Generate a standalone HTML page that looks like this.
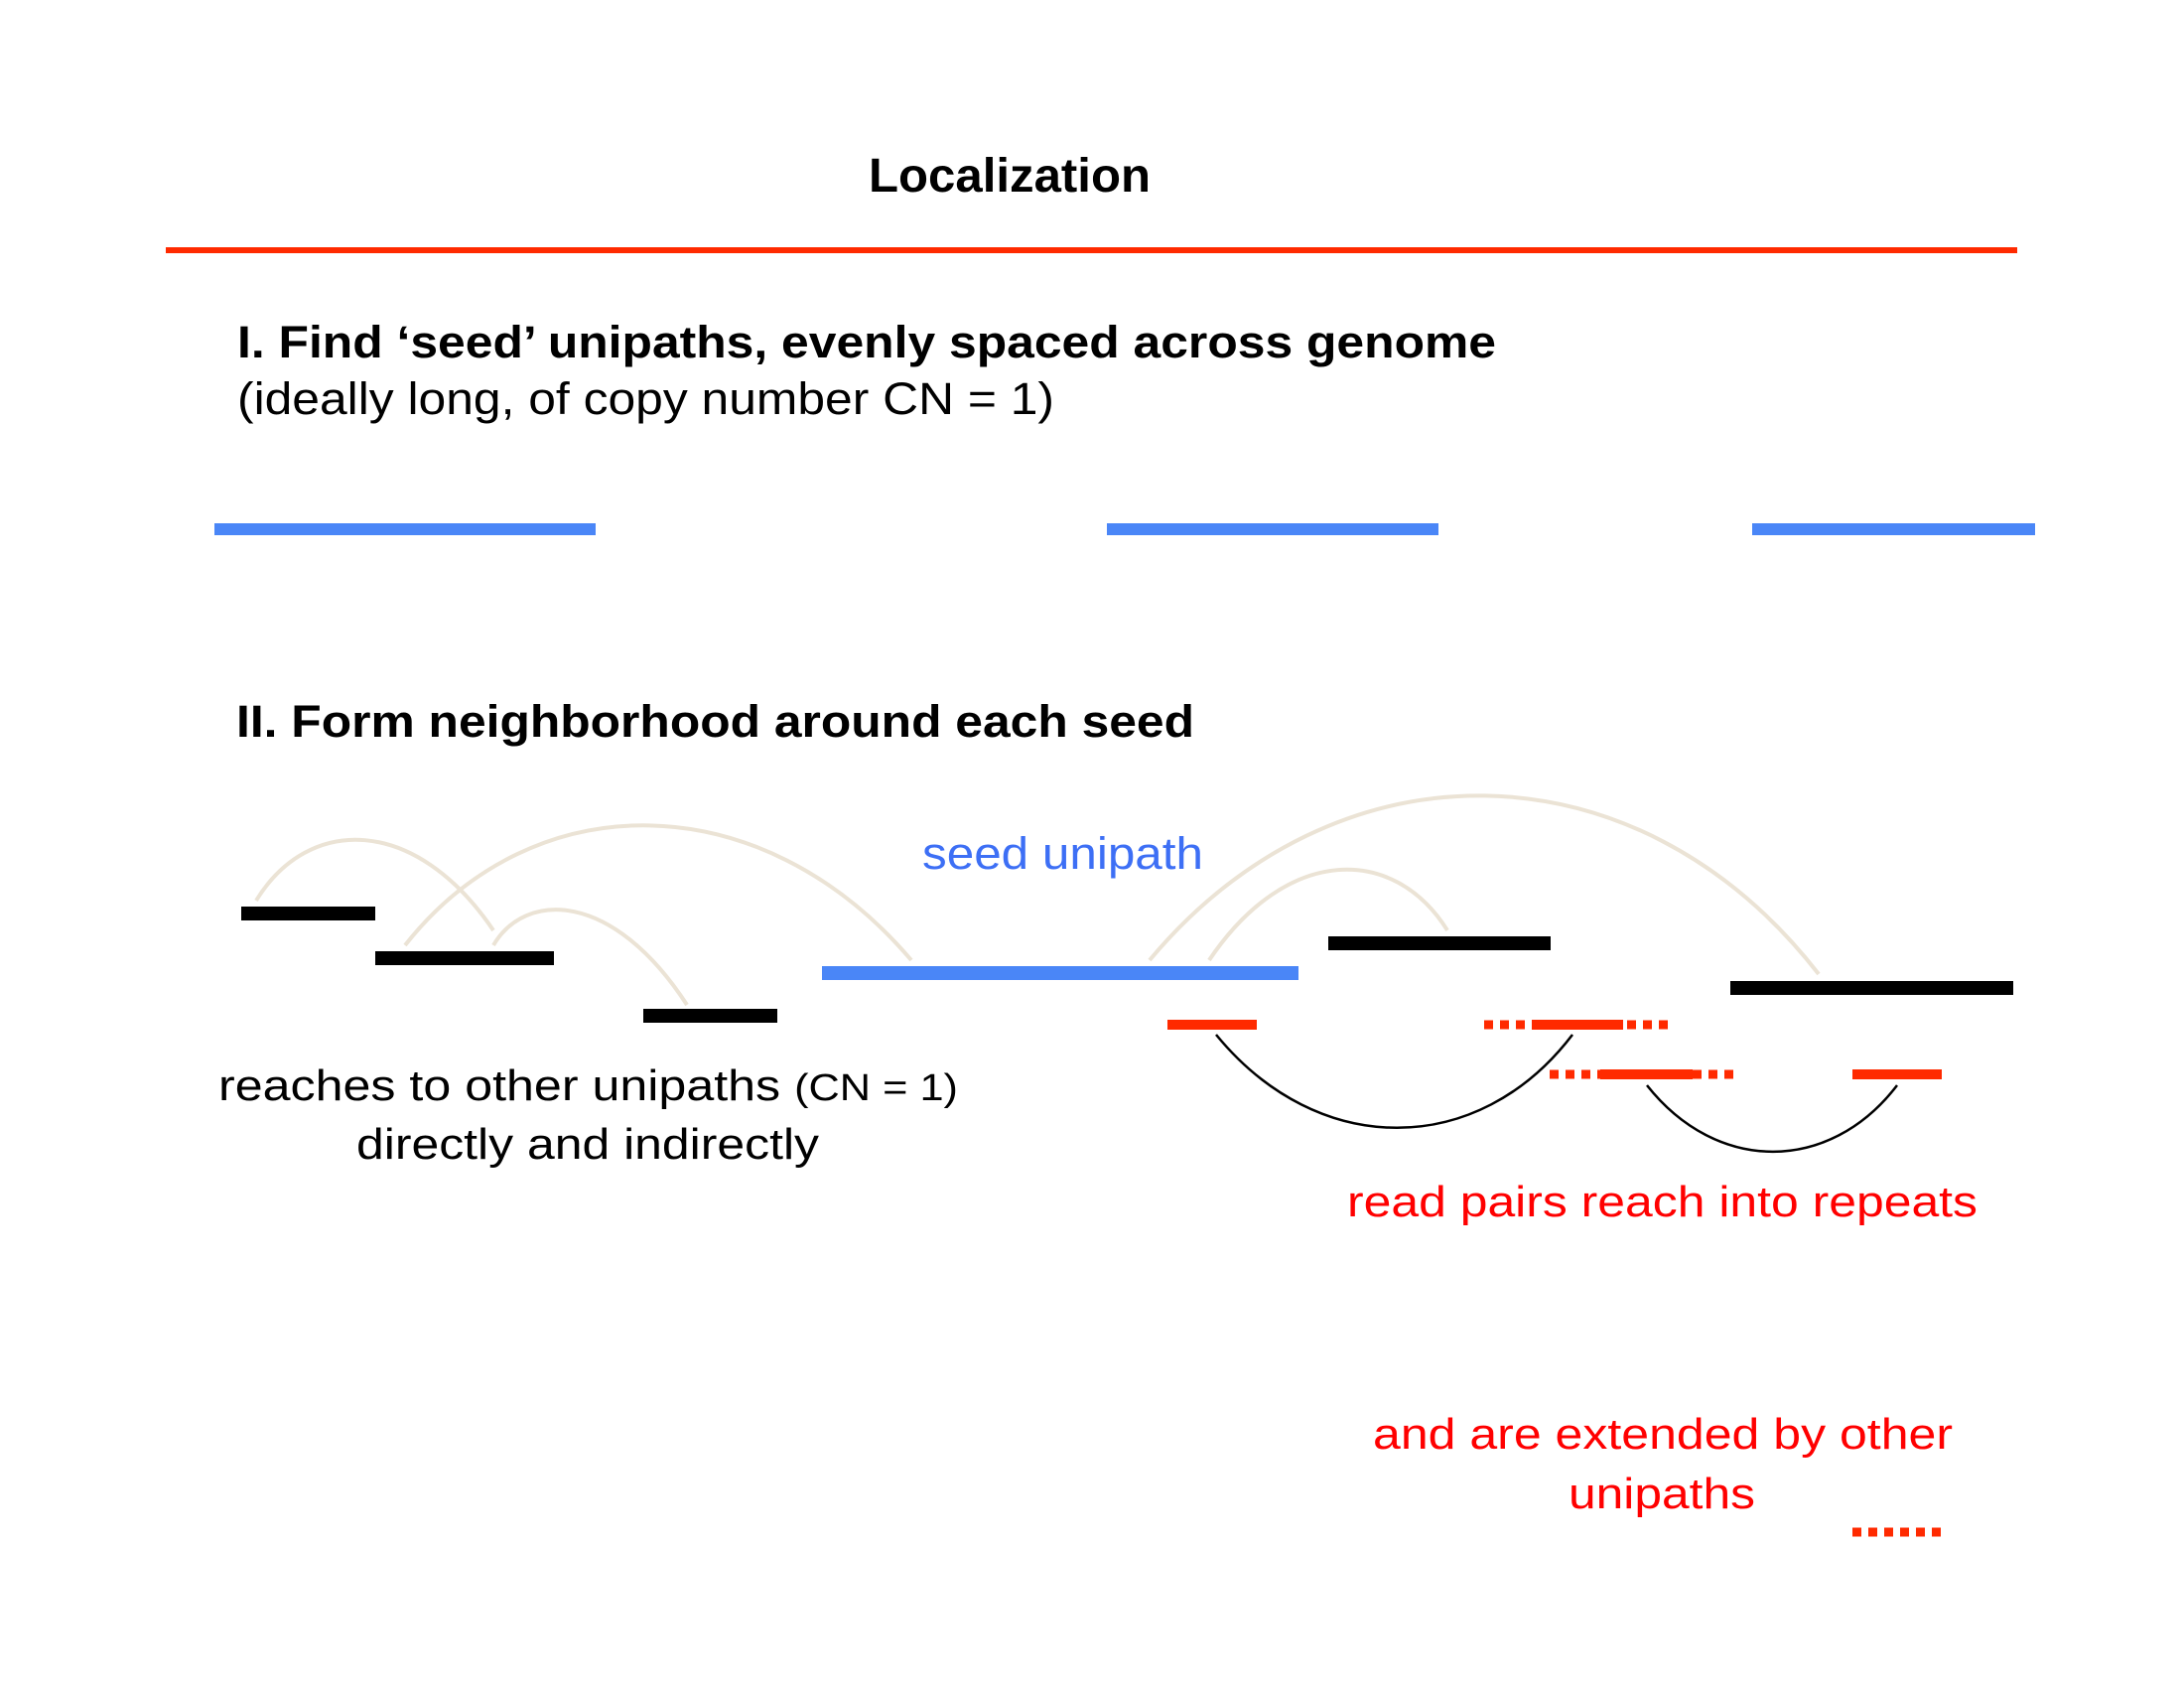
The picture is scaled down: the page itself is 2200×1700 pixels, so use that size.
<!DOCTYPE html>
<html><head><meta charset="utf-8"><style>
html,body{margin:0;padding:0;background:#fff;}
svg{display:block;font-family:"Liberation Sans",Arial,sans-serif;}
</style></head><body>
<svg id="fig" width="2200" height="1700" viewBox="0 0 2200 1700">
<rect width="2200" height="1700" fill="#fff"/>
<text x="875" y="193" font-size="48" font-weight="bold" textLength="284" lengthAdjust="spacingAndGlyphs">Localization</text>
<rect x="167" y="249" width="1865" height="6" fill="#ff2a00"/>
<text x="239" y="360" font-size="45" font-weight="bold" textLength="1268" lengthAdjust="spacingAndGlyphs">I. Find ‘seed’ unipaths, evenly spaced across genome</text>
<text x="239" y="417" font-size="45" textLength="823" lengthAdjust="spacingAndGlyphs">(ideally long, of copy number CN = 1)</text>
<text x="238" y="742" font-size="45" font-weight="bold" textLength="965" lengthAdjust="spacingAndGlyphs">II. Form neighborhood around each seed</text>
<text x="929" y="875" font-size="45" fill="#3d6ff5" textLength="283" lengthAdjust="spacingAndGlyphs">seed unipath</text>
<text x="220" y="1108" font-size="44" textLength="745" lengthAdjust="spacingAndGlyphs">reaches to other unipaths <tspan font-size="38">(CN = 1)</tspan></text>
<text x="359" y="1167" font-size="44" textLength="466" lengthAdjust="spacingAndGlyphs">directly and indirectly</text>
<text x="1357" y="1225" font-size="44" fill="#ff0000" textLength="635" lengthAdjust="spacingAndGlyphs">read pairs reach into repeats</text>
<text x="1383" y="1459" font-size="44" fill="#ff0000" textLength="584" lengthAdjust="spacingAndGlyphs">and are extended by other</text>
<text x="1580" y="1519" font-size="44" fill="#ff0000" textLength="188" lengthAdjust="spacingAndGlyphs">unipaths</text>
<g id="marks"></g>
</svg>
<script>
// segments: [x0, x1, yCenter]
const seedBars = [[216,600,533],[1115,1449,533],[1765,2050,533]];
const blackBars = [[243,378,920],[378,558,965],[648,783,1023],[1338,1562,950],[1743,2028,995]];
const centralSeed = [[828,1308,980]];
const redSolid = [[1176,1266,1032],[1543,1635,1032],[1612,1705,1082],[1866,1956,1082]];
const redDotted = [[1495,1682,1032],[1561,1749,1082],[1866,1958,1543]];
// arcs: [x0,y0, peakX,peakY, x1,y1]
const beigeArcs = [[258,907,354,846,497,937],[408,952,642,831,918,967],[497,952,556,918,692,1012],[1158,967,1497,801,1832,981],[1218,967,1360,876,1458,937]];
const blackArcs = [[1225,1042,1411,1136,1584,1042],[1659,1093,1787,1160,1911,1093]];

const NS = 'http://www.w3.org/2000/svg';
const g = document.getElementById('marks');
function line(s, color, w, dash, name){
  const l = document.createElementNS(NS,'line');
  l.setAttribute('x1', s[0]); l.setAttribute('x2', s[1]);
  l.setAttribute('y1', s[2]); l.setAttribute('y2', s[2]);
  l.setAttribute('stroke', color); l.setAttribute('stroke-width', w);
  if (dash) l.setAttribute('stroke-dasharray', dash);
  
  
  g.appendChild(l);
}
function arc(a, color, w, name){
  const [x0,y0,px,py,x1,y1] = a;
  const c1x = x0 + (px-x0)*0.55, c2x = x1 - (x1-px)*0.55;
  const cy = py + (py - (y0+y1)/2)*0.33;
  const p = document.createElementNS(NS,'path');
  p.setAttribute('d', `M${x0} ${y0} C${c1x} ${cy} ${c2x} ${cy} ${x1} ${y1}`);
  p.setAttribute('fill','none'); p.setAttribute('stroke', color); p.setAttribute('stroke-width', w);
  
  
  g.appendChild(p);
}
beigeArcs.forEach(a => arc(a, '#ebe3d5', 4, 'link-arc'));
blackArcs.forEach(a => arc(a, '#000', 2.5, 'read-pair-arc'));
seedBars.forEach(s => line(s, '#4a86f7', 12, null, 'seed-bar'));
blackBars.forEach(s => line(s, '#000', 14, null, 'unipath-bar'));
centralSeed.forEach(s => line(s, '#4a86f7', 14, null, 'central-seed-bar'));
redDotted.forEach(s => line(s, '#ff2a00', 9, '9 7', 'repeat-dotted'));
redSolid.forEach(s => line(s, '#ff2a00', 10, null, 'read-bar'));
</script>
</body></html>
